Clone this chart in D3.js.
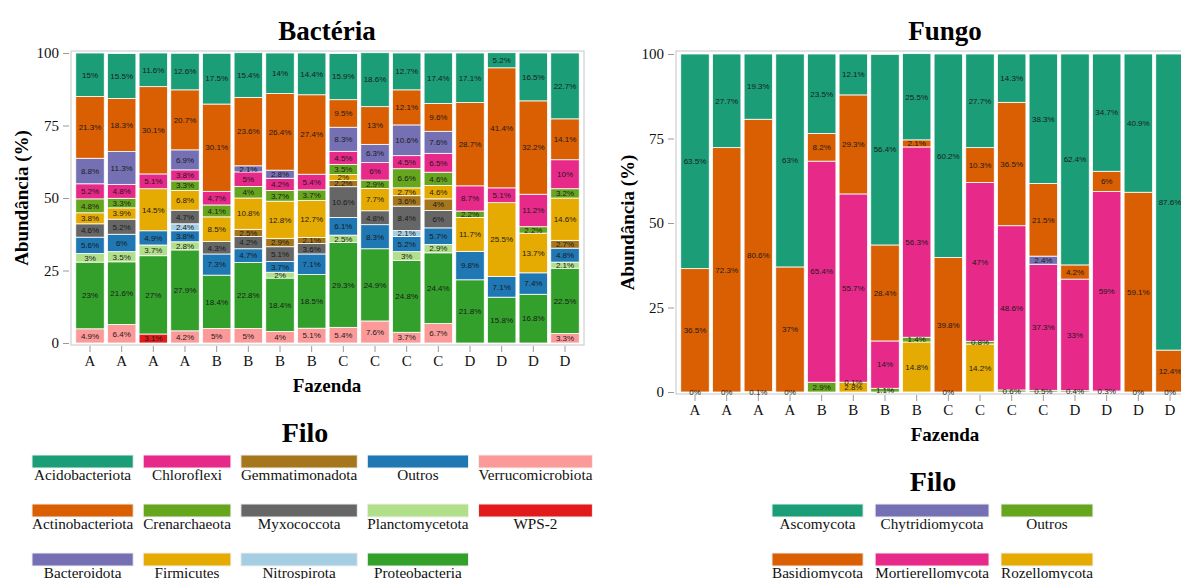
<!DOCTYPE html>
<meta charset="utf-8">
<style>
  body { margin: 0; background: #fff; }
  svg { display: block; }
  .serif { font-family: "Liberation Serif", "Times New Roman", serif; }
  .barlab { font-family: "Liberation Sans", Arial, sans-serif; font-size: 8px; fill: #1a1a1a; }
</style>

<!-- Load d3.js -->
<script src="https://d3js.org/d3.v7.min.js"></script>

<div id="my_dataviz"></div>

<script>

// farm of each sample (x axis)
var farms = ["A","A","A","A","B","B","B","B","C","C","C","C","D","D","D","D"];

// ---- Bacteria: relative abundance (%) per phylum, one value per sample (null = not shown)
var bacPhyla = ["Acidobacteriota","Actinobacteriota","Bacteroidota","Chloroflexi","Crenarchaeota",
                "Firmicutes","Gemmatimonadota","Myxococcota","Nitrospirota","Outros",
                "Planctomycetota","Proteobacteria","Verrucomicrobiota","WPS-2"];
var bacColors = ["#1B9E77","#D95F02","#7570B3","#E7298A","#66A61E",
                 "#E6AB02","#A6761D","#666666","#A6CEE3","#1F78B4",
                 "#B2DF8A","#33A02C","#FB9A99","#E31A1C"];

var acidobacteriota   = [15, 15.5, 11.6, 12.6, 17.5, 15.4, 14, 14.4, 15.9, 18.6, 12.7, 17.4, 17.1, 5.2, 16.5, 22.7];
var actinobacteriota  = [21.3, 18.3, 30.1, 20.7, 30.1, 23.6, 26.4, 27.4, 9.5, 13, 12.1, 9.6, 28.7, 41.4, 32.2, 14.1];
var bacteroidota      = [8.8, 11.3, null, 6.9, null, 2.1, 2.8, null, 8.3, 6.3, 10.6, 7.6, null, null, null, null];
var chloroflexi       = [5.2, 4.8, 5.1, 3.8, 4.7, 5, 4.2, 5.4, 4.5, 6, 4.5, 6.5, 8.7, 5.1, 11.2, 10];
var crenarchaeota     = [4.8, 3.3, null, 3.3, 4.1, 4, 3.7, 3.7, 3.5, 2.9, 6.6, 4.6, 2.2, null, 2.2, 3.2];
var firmicutes        = [3.8, 3.9, 14.5, 6.8, 8.5, 10.8, 12.8, 12.7, 2, 7.7, 2.7, 4.6, 11.7, 25.5, 13.7, 14.6];
var gemmatimonadota   = [null, null, null, null, null, 2.5, 2.9, 2.1, 2.2, null, 3.6, 4, null, null, null, 2.7];
var myxococcota       = [4.6, 5.2, null, 4.7, 4.3, 4.2, 5.1, 3.6, 10.6, 4.8, 8.4, 6, null, null, null, null];
var nitrospirota      = [null, null, null, 2.4, null, null, null, null, null, null, 2.1, null, null, null, null, null];
var bacOutros         = [5.6, 6, 4.9, 3.8, 7.3, 4.7, 3.7, 7.1, 6.1, 8.3, 5.2, 5.7, 9.8, 7.1, 7.4, 4.8];
var planctomycetota   = [3, 3.5, 3.7, 2.8, null, null, 2, null, 2.5, null, 3, 2.9, null, null, null, 2.1];
var proteobacteria    = [23, 21.6, 27, 27.9, 18.4, 22.8, 18.4, 18.5, 29.3, 24.9, 24.8, 24.4, 21.8, 15.8, 16.8, 22.5];
var verrucomicrobiota = [4.9, 6.4, null, 4.2, 5, 5, 4, 5.1, 5.4, 7.6, 3.7, 6.7, null, null, null, 3.3];
var wps2              = [null, null, 3.1, null, null, null, null, null, null, null, null, null, null, null, null, null];

var bacSeries = [acidobacteriota, actinobacteriota, bacteroidota, chloroflexi, crenarchaeota,
                 firmicutes, gemmatimonadota, myxococcota, nitrospirota, bacOutros,
                 planctomycetota, proteobacteria, verrucomicrobiota, wps2];

// ---- Fungi
var funPhyla = ["Ascomycota","Basidiomycota","Chytridiomycota","Mortierellomycota","Outros","Rozellomycota"];
var funColors = ["#1B9E77","#D95F02","#7570B3","#E7298A","#66A61E","#E6AB02"];

var ascomycota        = [63.5, 27.7, 19.3, 63, 23.5, 12.1, 56.4, 25.5, 60.2, 27.7, 14.3, 38.3, 62.4, 34.7, 40.9, 87.6];
var basidiomycota     = [36.5, 72.3, 80.6, 37, 8.2, 29.3, 28.4, 2.1, 39.8, 10.3, 36.5, 21.5, 4.2, 6, 59.1, 12.4];
var chytridiomycota   = [null, null, null, null, null, null, null, null, null, null, null, 2.4, null, null, null, null];
var mortierellomycota = [null, null, null, null, 65.4, 55.7, 14, 56.3, null, 47, 48.6, 37.3, 33, 59, null, null];
var funOutros         = [0, 0, 0.1, 0, 2.9, 0.1, 1.1, 1.4, 0, 0.8, 0.6, 0.5, 0.4, 0.3, 0, 0];
var rozellomycota     = [null, null, null, null, null, 2.8, null, 14.8, null, 14.2, null, null, null, null, null, null];

var funSeries = [ascomycota, basidiomycota, chytridiomycota, mortierellomycota, funOutros, rozellomycota];

var yTicks = [0, 25, 50, 75, 100];

var svg = d3.select("#my_dataviz")
  .append("svg")
    .attr("width", 1181)
    .attr("height", 579);

function drawPanel(opt) {
  var g = svg.append("g");

  // rows for d3.stack
  var rows = farms.map(function(f, i) {
    var r = {idx: i};
    opt.keys.forEach(function(k, j) { r[k] = opt.series[j][i]; });
    return r;
  });
  // stacked bottom -> top in reverse alphabetical order
  var stackKeys = opt.keys.slice().reverse();
  var stacked = d3.stack()
    .keys(stackKeys)
    .value(function(d, k) { return d[k] == null ? 0 : d[k]; })(rows);

  var color = d3.scaleOrdinal().domain(opt.keys).range(opt.colors);

  var x = d3.scaleBand()
    .domain(d3.range(farms.length))
    .range([opt.left, opt.right])
    .paddingInner(0.1)
    .paddingOuter(0.15);

  var y = d3.scaleLinear()
    .domain([0, 100])
    .range([opt.y0, opt.y100]);

  // panel border
  g.append("rect")
    .attr("x", opt.left).attr("y", opt.top)
    .attr("width", opt.right - opt.left).attr("height", opt.bottom - opt.top)
    .attr("fill", "none").attr("stroke", "#cfcfcf").attr("stroke-width", 1.2);

  // bars
  g.append("g").selectAll("g")
    .data(stacked)
    .join("g")
      .attr("fill", function(d) { return color(d.key); })
    .selectAll("rect")
    .data(function(d) { return d; })
    .join("rect")
      .attr("x", function(d) { return x(d.data.idx); })
      .attr("y", function(d) { return y(d[1]); })
      .attr("width", x.bandwidth())
      .attr("height", function(d) { return Math.max(0, y(d[0]) - y(d[1])); })
      .attr("stroke", "#fff")
      .attr("stroke-width", 0.8);

  // percentage labels
  var labs = [];
  stacked.forEach(function(s) {
    s.forEach(function(d) {
      var v = d.data[s.key];
      if (v != null) labs.push({i: d.data.idx, v: v, mid: (d[0] + d[1]) / 2});
    });
  });
  g.append("g").selectAll("text")
    .data(labs)
    .join("text")
      .attr("class", "barlab")
      .attr("x", function(d) { return x(d.i) + x.bandwidth() / 2; })
      .attr("y", function(d) { return y(d.mid); })
      .attr("dy", "0.35em")
      .attr("text-anchor", "middle")
      .text(function(d) { return d.v + "%"; });

  // Y axis
  var yAxis = g.append("g")
    .attr("transform", "translate(" + (opt.left - 2) + ",0)")
    .call(d3.axisLeft(y).tickValues(yTicks).tickSize(6).tickPadding(4));
  yAxis.select(".domain").remove();
  yAxis.selectAll("line").attr("stroke", "#9a9a9a");
  yAxis.selectAll("text").attr("class", "serif").attr("font-size", 15).attr("fill", "#111");

  // X axis
  var xAxis = g.append("g")
    .attr("transform", "translate(0," + (opt.bottom + 1) + ")")
    .call(d3.axisBottom(x).tickFormat(function(i) { return farms[i]; }).tickSize(6).tickPadding(3));
  xAxis.select(".domain").remove();
  xAxis.selectAll("line").attr("stroke", "#9a9a9a");
  xAxis.selectAll("text").attr("class", "serif").attr("font-size", 15).attr("fill", "#111");

  // titles
  g.append("text")
    .attr("class", "serif")
    .attr("x", opt.titleX).attr("y", 40)
    .attr("text-anchor", "middle")
    .attr("font-size", 27).attr("font-weight", "bold")
    .text(opt.title);

  g.append("text")
    .attr("class", "serif")
    .attr("x", opt.titleX).attr("y", opt.bottom + 47)
    .attr("text-anchor", "middle")
    .attr("font-size", 19).attr("font-weight", "bold")
    .text("Fazenda");

  g.append("text")
    .attr("class", "serif")
    .attr("transform", "translate(" + opt.yTitleX + "," + ((opt.top + opt.bottom) / 2) + ") rotate(-90)")
    .attr("text-anchor", "middle")
    .attr("font-size", 19).attr("font-weight", "bold")
    .text("Abundância (%)");

  // legend: keys filled column by column, label under each key
  var lg = g.append("g");
  lg.append("text")
    .attr("class", "serif")
    .attr("x", opt.legTitleX).attr("y", opt.legTitleY)
    .attr("text-anchor", "middle")
    .attr("font-size", 28).attr("font-weight", "bold")
    .text("Filo");

  var nCols = Math.ceil(opt.keys.length / opt.legRows);
  var xPos = opt.legLeft;
  for (var c = 0; c < nCols; c++) {
    var items = opt.keys.slice(c * opt.legRows, (c + 1) * opt.legRows);
    var texts = items.map(function(k, r) {
      return lg.append("text")
        .attr("class", "serif")
        .attr("font-size", 15.2)
        .attr("text-anchor", "middle")
        .attr("y", opt.legTop + r * 49 + 25)
        .attr("fill", "#111")
        .text(k);
    });
    var w = d3.max(texts, function(t) { return t.node().getComputedTextLength(); });
    items.forEach(function(k, r) {
      lg.append("rect")
        .attr("x", xPos).attr("y", opt.legTop + r * 49)
        .attr("width", w).attr("height", 13)
        .attr("fill", color(k))
        .attr("stroke", "#f0f0f0").attr("stroke-width", 1);
      texts[r].attr("x", xPos + w / 2);
    });
    xPos += w + opt.legGap;
  }
}

drawPanel({
  keys: bacPhyla, colors: bacColors, series: bacSeries,
  left: 71, right: 584, top: 51, bottom: 345, y0: 343, y100: 53,
  title: "Bactéria", titleX: 327, yTitleX: 28,
  legTitleX: 305, legTitleY: 442, legLeft: 32, legTop: 455, legRows: 3, legGap: 10
});

drawPanel({
  keys: funPhyla, colors: funColors, series: funSeries,
  left: 676, right: 1189, top: 51, bottom: 394, y0: 392, y100: 54,
  title: "Fungo", titleX: 945, yTitleX: 634,
  legTitleX: 933, legTitleY: 491, legLeft: 772, legTop: 504, legRows: 2, legGap: 12
});

</script>
